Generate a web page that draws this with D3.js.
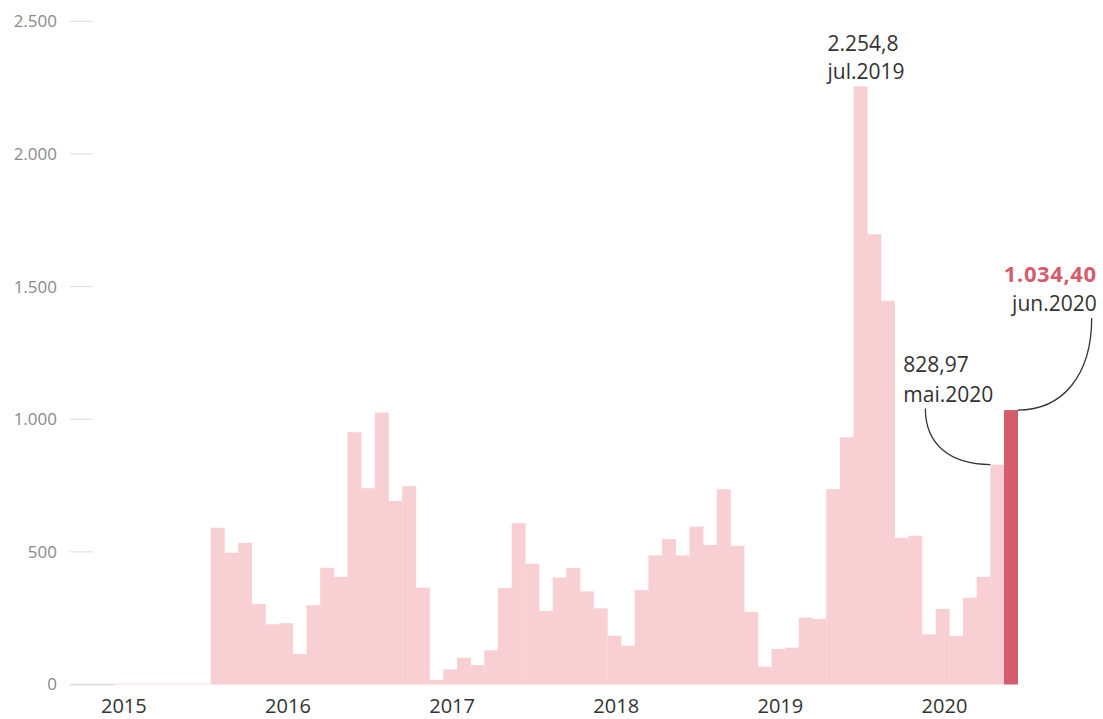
<!DOCTYPE html>
<html>
<head>
<meta charset="utf-8">
<script src="https://cdn.jsdelivr.net/npm/d3@7"></script>
<style>
  body { margin: 0; background: #fff; }
  svg { display: block; font-family: "Open Sans", sans-serif; }
</style>
</head>
<body>
<div id="chart"></div>
<script>
var years = [2015, 2016, 2017, 2018, 2019, 2020];
var monthCodes = ['01', '02', '03', '04', '05', '06', '07', '08', '09', '10', '11', '12'];

// one value per month, jan.2015 .. jun.2020
var values2015 = [3, 3, 3, 3, 3, 3, 3, 591, 497, 534, 303, 227];
var values2016 = [231, 115, 299, 440, 406, 951, 740, 1025, 692, 748, 365, 17];
var values2017 = [57, 101, 73, 129, 364, 608, 455, 277, 403, 439, 351, 287];
var values2018 = [184, 146, 356, 487, 548, 487, 595, 526, 736, 523, 274, 67];
var values2019 = [134, 139, 252, 247, 737, 932, 2254.8, 1697, 1446, 553, 561, 189];
var values2020 = [285, 183, 327, 406, 828.97, 1034.40];

var yTicks = [0, 500, 1000, 1500, 2000, 2500];
var highlight = '2020-06';

var annotations = [
    { month: '2019-07', value: '2.254,8', label: 'jul.2019' },
    { month: '2020-05', value: '828,97', label: 'mai.2020' },
    { month: '2020-06', value: '1.034,40', label: 'jun.2020' }
];

var allValues = [values2015, values2016, values2017, values2018, values2019, values2020];
var data = [];
years.forEach(function(yr, i) {
    allValues[i].forEach(function(v, j) {
        data.push({ month: yr + '-' + monthCodes[j], year: yr, value: v });
    });
});

var width = 1103, height = 719;
var svg = d3.select('#chart').append('svg').attr('width', width).attr('height', height);

var x = d3.scaleBand().domain(data.map(function(d) { return d.month; })).range([115, 1017.7]).padding(0);
var y = d3.scaleLinear().domain([0, 2500]).range([684.5, 21.3]);
var bw = x.bandwidth();

var locale = d3.formatLocale({ decimal: ',', thousands: '.', grouping: [3], currency: ['', ''] });
var fmt = locale.format(',');

// y axis: short ticks and labels
var yAxis = svg.append('g');
yAxis.selectAll('line')
    .data(yTicks)
    .enter()
    .append('line')
    .attr('x1', 70)
    .attr('x2', function(d) { return d === 0 ? x.range()[0] : 93; })
    .attr('y1', function(d) { return y(d); })
    .attr('y2', function(d) { return y(d); })
    .attr('stroke', '#dcdcdc')
    .attr('stroke-width', function(d) { return d === 0 ? 1.5 : 1; });
yAxis.selectAll('text')
    .data(yTicks)
    .enter()
    .append('text')
    .attr('x', 57)
    .attr('y', function(d) { return y(d); })
    .attr('dy', '0.35em')
    .attr('text-anchor', 'end')
    .attr('font-size', 17)
    .attr('fill', '#8a8a8a')
    .text(function(d) { return fmt(d); });

// bars
svg.append('g')
    .selectAll('rect')
    .data(data)
    .enter()
    .append('rect')
    .attr('x', function(d) { return x(d.month); })
    .attr('y', function(d) { return y(d.value); })
    .attr('width', bw + 0.3)
    .attr('height', function(d) { return y(0) - y(d.value); })
    .attr('fill', function(d) { return d.month === highlight ? '#d45c6d' : '#f8d0d3'; });

// year labels
svg.append('g')
    .selectAll('text')
    .data(years)
    .enter()
    .append('text')
    .attr('x', function(d) { return x(d + '-01') + bw / 2 + 2; })
    .attr('y', 713)
    .attr('text-anchor', 'middle')
    .attr('font-size', 20)
    .attr('fill', '#333')
    .text(function(d) { return d; });

// annotations
var byMonth = {};
data.forEach(function(d) { byMonth[d.month] = d; });

var peak = annotations[0], may = annotations[1], jun = annotations[2];

var px = x(peak.month), py = y(byMonth[peak.month].value);
var gPeak = svg.append('g').attr('font-size', 21).attr('fill', '#333');
gPeak.append('text').attr('x', px - 26).attr('y', py - 35).text(peak.value);
gPeak.append('text').attr('x', px - 26).attr('y', py - 7).text(peak.label);

var mx = x(may.month), my = y(byMonth[may.month].value);
var gMay = svg.append('g').attr('font-size', 21).attr('fill', '#333');
gMay.append('text').attr('x', mx - 87).attr('y', my - 93).text(may.value);
gMay.append('text').attr('x', mx - 87).attr('y', my - 63).text(may.label);
svg.append('path')
    .attr('d', 'M' + (mx - 65) + ',' + (my - 56) + ' C' + (mx - 65) + ',' + (my - 20) + ' ' + (mx - 40) + ',' + my + ' ' + mx + ',' + my)
    .attr('fill', 'none')
    .attr('stroke', '#333')
    .attr('stroke-width', 1.3);

var jx = x(jun.month) + bw, jy = y(byMonth[jun.month].value);
var gJun = svg.append('g').attr('font-size', 21).attr('text-anchor', 'end');
gJun.append('text').attr('x', jx + 79).attr('y', jy - 128)
    .attr('font-size', 22).attr('letter-spacing', '0.6px')
    .attr('font-weight', 'bold').attr('fill', '#d45c6d').text(jun.value);
gJun.append('text').attr('x', jx + 79).attr('y', jy - 99).attr('fill', '#333').text(jun.label);
svg.append('path')
    .attr('d', 'M' + (jx + 74) + ',' + (jy - 92) + ' C' + (jx + 74) + ',' + (jy - 35) + ' ' + (jx + 45) + ',' + jy + ' ' + jx + ',' + jy)
    .attr('fill', 'none')
    .attr('stroke', '#333')
    .attr('stroke-width', 1.3);
</script>
</body>
</html>
